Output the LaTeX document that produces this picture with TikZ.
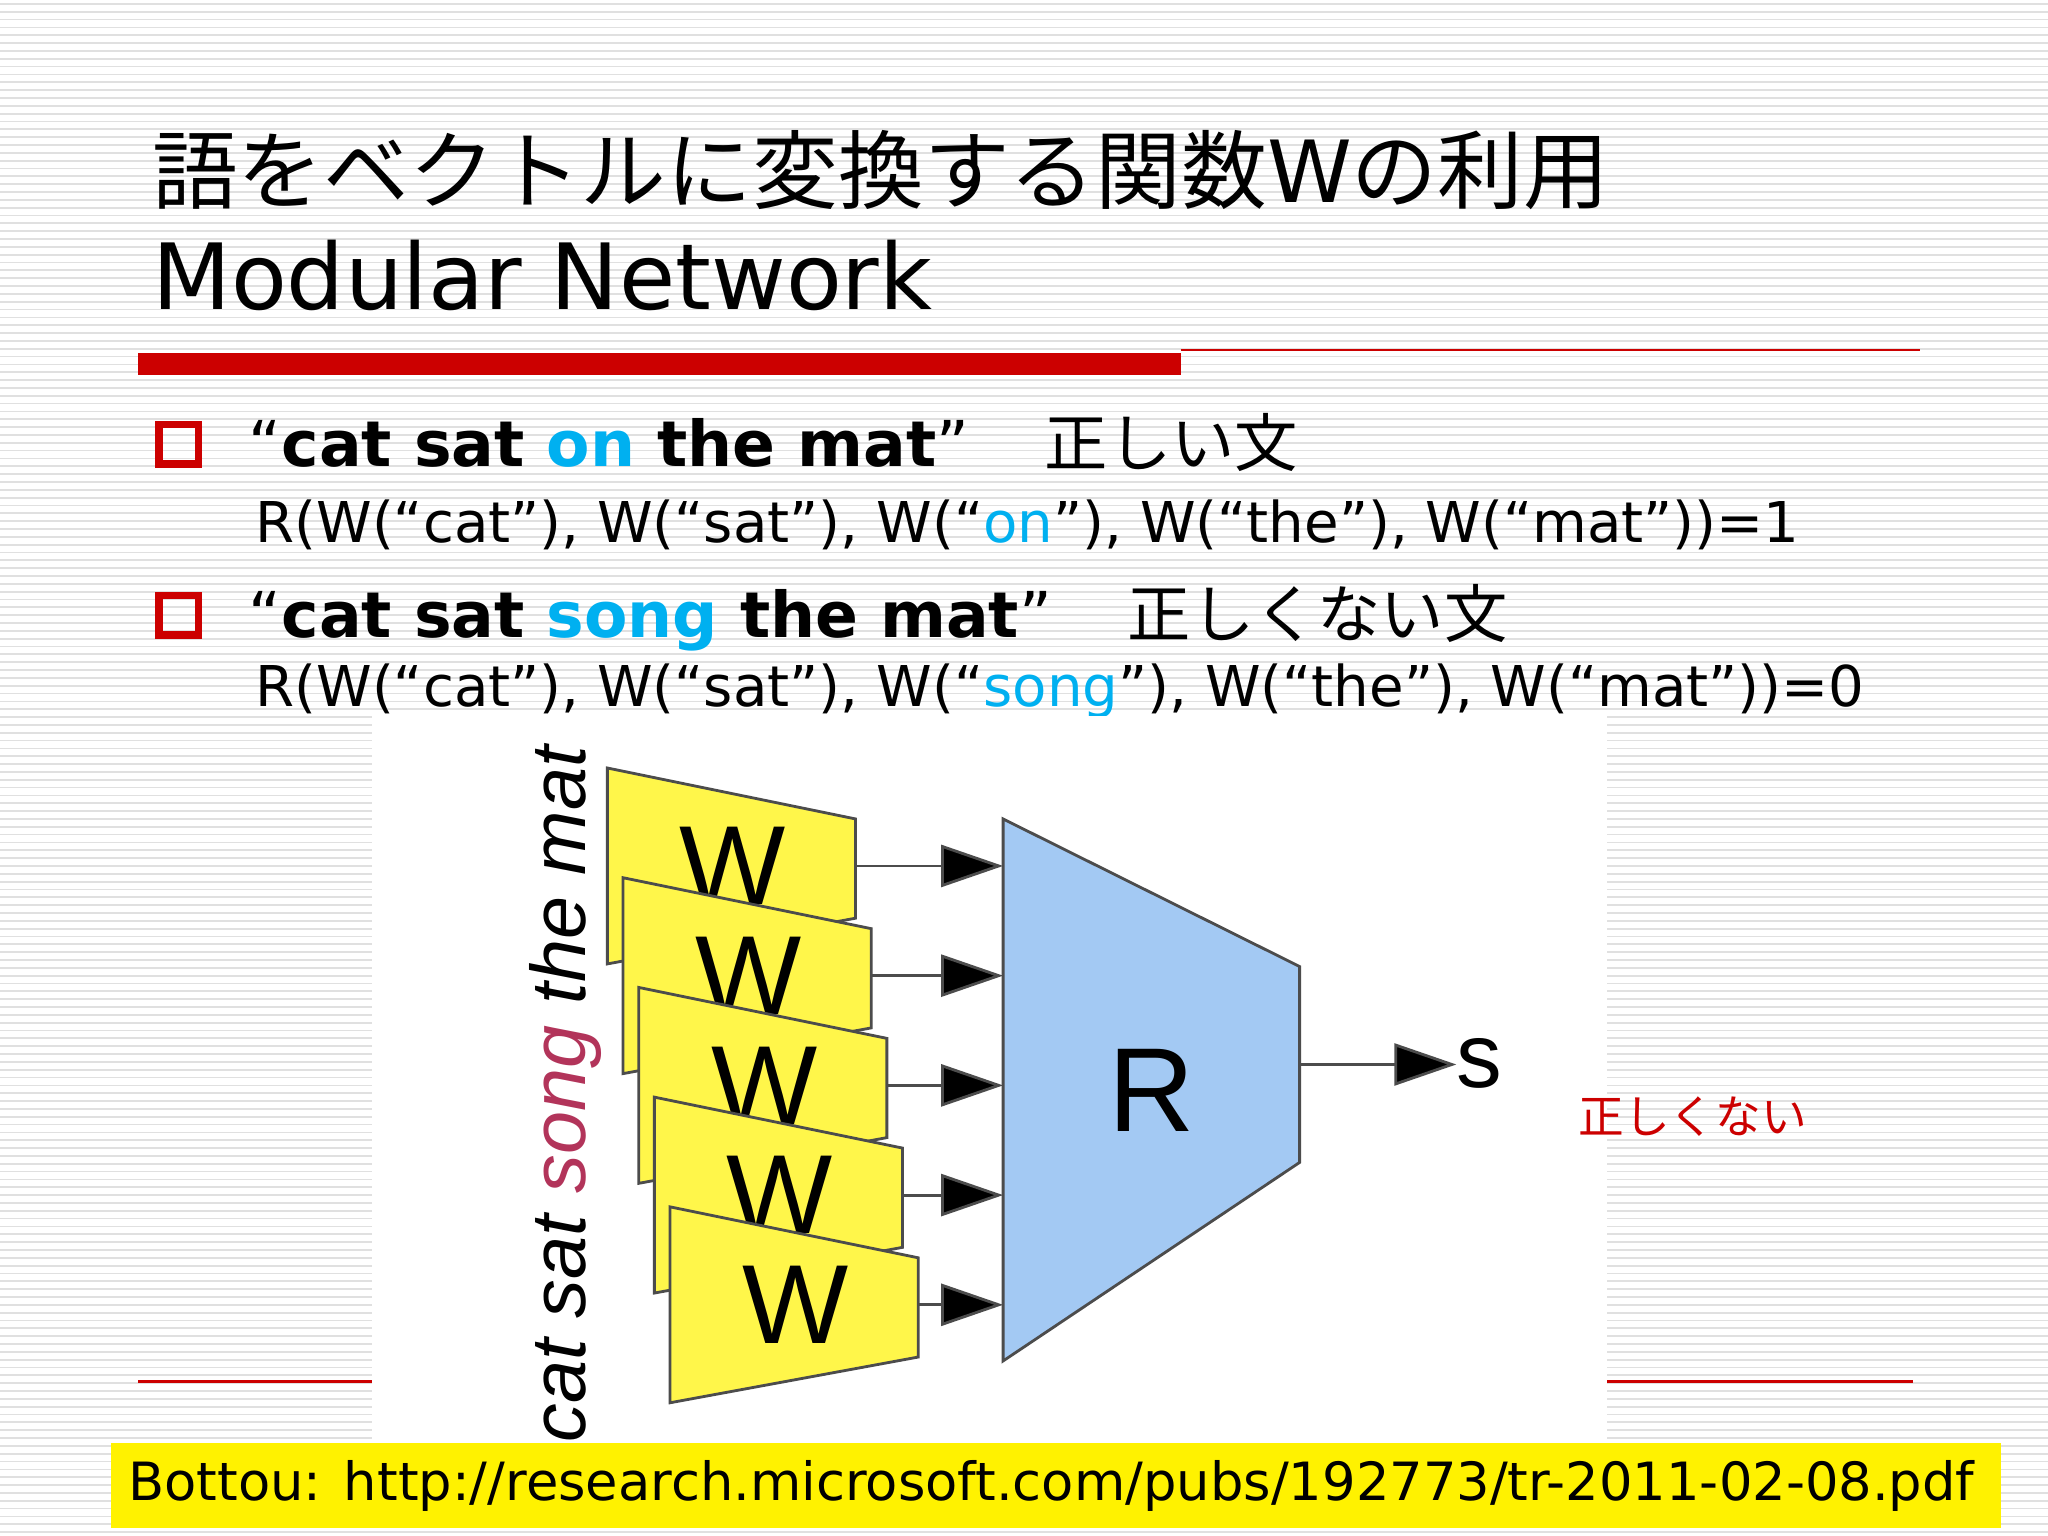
\documentclass[tikz,border=0pt]{standalone}
\usepackage{fontspec}
\setmainfont{DejaVu Sans}
\newfontfamily\jp{Noto Sans CJK JP}
\newfontfamily\arial{Liberation Sans}
\definecolor{slred}{HTML}{CC0000}
\definecolor{slblue}{HTML}{00B0F0}
\definecolor{wyel}{HTML}{FFF64A}
\definecolor{rblue}{HTML}{A3C9F3}
\definecolor{songc}{HTML}{B2345A}
\tikzset{wbox/.style={fill=wyel,draw=black!70,line width=0.8pt},
 bigarrow/.style={draw=black!70,line width=0.8pt,-{Triangle[length=0.62cm,width=0.42cm,fill=black]}}}
\usetikzlibrary{arrows.meta}
\begin{document}
\begin{tikzpicture}[x=0.013061cm,y=-0.013061cm]
\useasboundingbox (0,0) rectangle (1568,1176);
\fill[white] (0,0) rectangle (1568,1176);
\foreach \i in {0,...,195} {\draw[black!12,line width=0.5pt] (0,3+6*\i) -- (1568,3+6*\i);}
% title
\node[anchor=base west,inner sep=0,font=\jp\fontsize{24.4}{30}\selectfont] (t1) at (116,155) {語をベクトルに変換する関数{\fontspec{DejaVu Sans}W}の利用};
\node[anchor=base west,inner sep=0,font=\fontsize{26}{30}\selectfont] (t2) at (116,237) {Modular Network};
\fill[slred] (106,270) rectangle (904,287);
\draw[slred,line width=0.8pt] (904,268) -- (1470,268);
% bullets
\draw[slred,line width=2.2pt] (122,325) rectangle (152,355);
\draw[slred,line width=2.2pt] (122,456) rectangle (152,486);
\node[anchor=base west,inner sep=0,font=\fontsize{18}{22}\selectfont] (l1) at (190,357) {“\textbf{cat sat \textcolor{slblue}{on} the mat}”\hspace{1.2em}{\jp 正しい文}};
\node[anchor=base west,inner sep=0,font=\fontsize{16}{20}\selectfont] (l2) at (195,415) {R(W(“cat"), W(“sat"), W(“\textcolor{slblue}{on}"), W(“the"), W(“mat"))=1};
\node[anchor=base west,inner sep=0,font=\fontsize{18}{22}\selectfont] (l3) at (190,488) {“\textbf{cat sat \textcolor{slblue}{song} the mat}”\hspace{1.2em}{\jp 正しくない文}};
\node[anchor=base west,inner sep=0,font=\fontsize{16}{20}\selectfont] (l4) at (195,541) {R(W(“cat"), W(“sat"), W(“\textcolor{slblue}{song}"), W(“the"), W(“mat"))=0};
\draw[slred,line width=0.8pt] (106,1058) -- (285,1058);
\draw[slred,line width=0.8pt] (1230,1058) -- (1465,1058);
% picture
\fill[white] (285,548) rectangle (1230,1105);
\node[rotate=90,anchor=base west,inner sep=0,font=\arial\itshape\fontsize{22}{26}\selectfont] (sent) at (448,1105) {cat sat \textcolor{songc}{song} the mat};
\foreach \i in {0,...,4} {
 \draw[wbox] ({465+12*\i},{588+84*\i}) -- ++(190,39) -- ++(0,76) -- ++(-190,35) -- cycle;
 \node[font=\arial\fontsize{32}{32}\selectfont,inner sep=0] (w\i) at ({561+12*\i},{663+84*\i}) {W};
 \coordinate (ws\i) at ({655+12*\i},{663+84*\i});
 \coordinate (we\i) at (768,{663+84*\i});
 \draw[bigarrow] (ws\i) -- (we\i);
}
\draw[fill=rblue,draw=black!70,line width=0.8pt] (768,627) -- (995,740) -- (995,890) -- (768,1042) -- cycle;
\node[font=\arial\fontsize{34}{34}\selectfont,inner sep=0] (R) at (882,835) {R};
\coordinate (ro) at (995,815);
\node[font=\arial\fontsize{26}{26}\selectfont,inner sep=0] (s) at (1133,814) {s};
\draw[bigarrow] (ro) -- (s.west |- ro);
\node[text=slred,font=\jp\fontsize{13}{16}\selectfont,inner sep=0] (ng) at (1296,855) {正しくない};
% footer
\fill[yellow] (85,1105) rectangle (1532,1170);
\node[font=\fontsize{15}{20}\selectfont,inner sep=0] (ref) at (805,1138) {Bottou: http://research.microsoft.com/pubs/192773/tr-2011-02-08.pdf};
\end{tikzpicture}
\end{document}
